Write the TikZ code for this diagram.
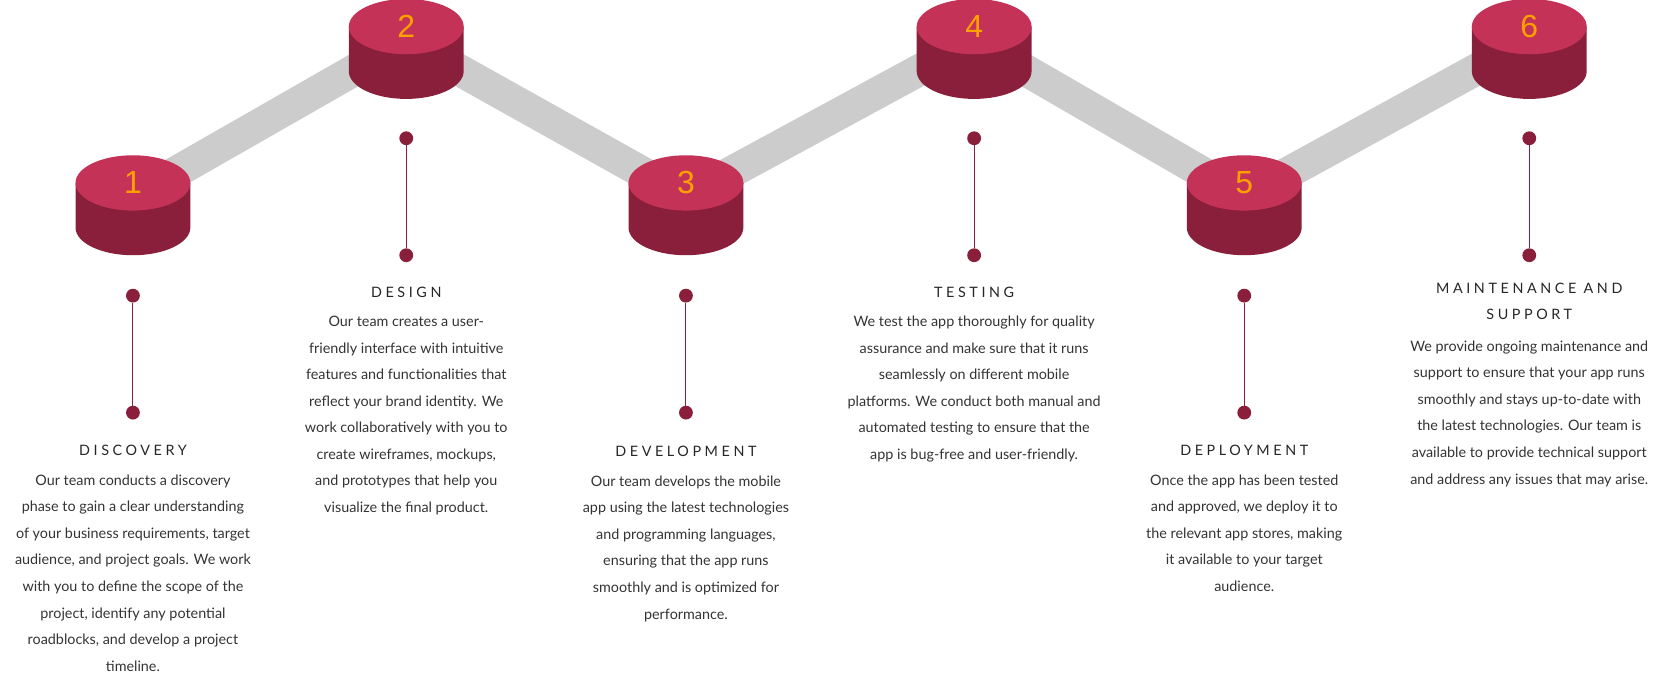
\documentclass[tikz,border=0pt]{standalone}
\usepackage{fontspec}
\setmainfont{Lato}
\newfontfamily\titlefont[LetterSpace=25]{Lato}
\newfontfamily\numfont{Liberation Sans}
\begin{document}
\begin{tikzpicture}[x=1pt,y=-1pt,
  body/.style={align=center,font=\fontsize{13.5}{25}\selectfont,text=black!80,anchor=north,inner sep=0pt},
  ttl/.style={font=\titlefont\fontsize{13.5}{24}\selectfont,text=black!85,anchor=base,align=center,inner sep=0pt},
  dotc/.style={circle,fill=wine,inner sep=0pt,minimum size=13pt},
  band/.style={line width=30pt,draw=black!20}]
\definecolor{wine}{HTML}{8A1F3B}
\definecolor{rose}{HTML}{C53257}
\definecolor{numc}{HTML}{FFA200}
\useasboundingbox (0,0) rectangle (1560,643);
% band
\draw[band] (125,185) -- (382,38) -- (645,185) -- (916,38) -- (1170,185) -- (1438,38);
% cylinders
\foreach \x/\y/\n in {125/172/1,382/25/2,645/172/3,916/25/4,1170/172/5,1438/25/6}{
  \fill[wine] (\x-54,\y) -- (\x-54,\y+42) arc[start angle=180,end angle=0,x radius=54,y radius=26] -- (\x+54,\y) -- cycle;
  \fill[rose] (\x,\y) ellipse[x radius=54,y radius=26];
  \node[text=numc,font=\numfont\fontsize{30}{30}\selectfont] (n\n) at (\x,\y) {\n};
}
% odd connectors
\foreach \x/\n in {125/1,645/3,1170/5}{
  \node[dotc] (a\n) at (\x,278) {};
  \node[dotc] (b\n) at (\x,388) {};
  \draw[wine,line width=1pt] (a\n) -- (b\n);
}
\foreach \x/\n in {382/2,916/4,1438/6}{
  \node[dotc] (a\n) at (\x,130) {};
  \node[dotc] (b\n) at (\x,240) {};
  \draw[wine,line width=1pt] (a\n) -- (b\n);
}
% titles
\node[ttl] (t1) at (125,428) {DISCOVERY};
\node[ttl] (t3) at (645,429) {DEVELOPMENT};
\node[ttl] (t5) at (1170,428) {DEPLOYMENT};
\node[ttl] (t2) at (382,280) {DESIGN};
\node[ttl] (t4) at (916,280) {TESTING};
\node[ttl,anchor=north] (t6) at (1438,266) {MAINTENANCE AND\\SUPPORT};
% bodies
\node[body] (d1) at (125,446) {Our team conducts a discovery\\phase to gain a clear understanding\\of your business requirements, target\\audience, and project goals. We work\\with you to define the scope of the\\project, identify any potential\\roadblocks, and develop a project\\timeline.};
\node[body] (d3) at (645,447) {Our team develops the mobile\\app using the latest technologies\\and programming languages,\\ensuring that the app runs\\smoothly and is optimized for\\performance.};
\node[body] (d5) at (1170,446) {Once the app has been tested\\and approved, we deploy it to\\the relevant app stores, making\\it available to your target\\audience.};
\node[body] (d2) at (382,297) {Our team creates a user-\\friendly interface with intuitive\\features and functionalities that\\reflect your brand identity. We\\work collaboratively with you to\\create wireframes, mockups,\\and prototypes that help you\\visualize the final product.};
\node[body] (d4) at (916,297) {We test the app thoroughly for quality\\assurance and make sure that it runs\\seamlessly on different mobile\\platforms. We conduct both manual and\\automated testing to ensure that the\\app is bug-free and user-friendly.};
\node[body] (d6) at (1438,320) {We provide ongoing maintenance and\\support to ensure that your app runs\\smoothly and stays up-to-date with\\the latest technologies. Our team is\\available to provide technical support\\and address any issues that may arise.};
\end{tikzpicture}
\end{document}
